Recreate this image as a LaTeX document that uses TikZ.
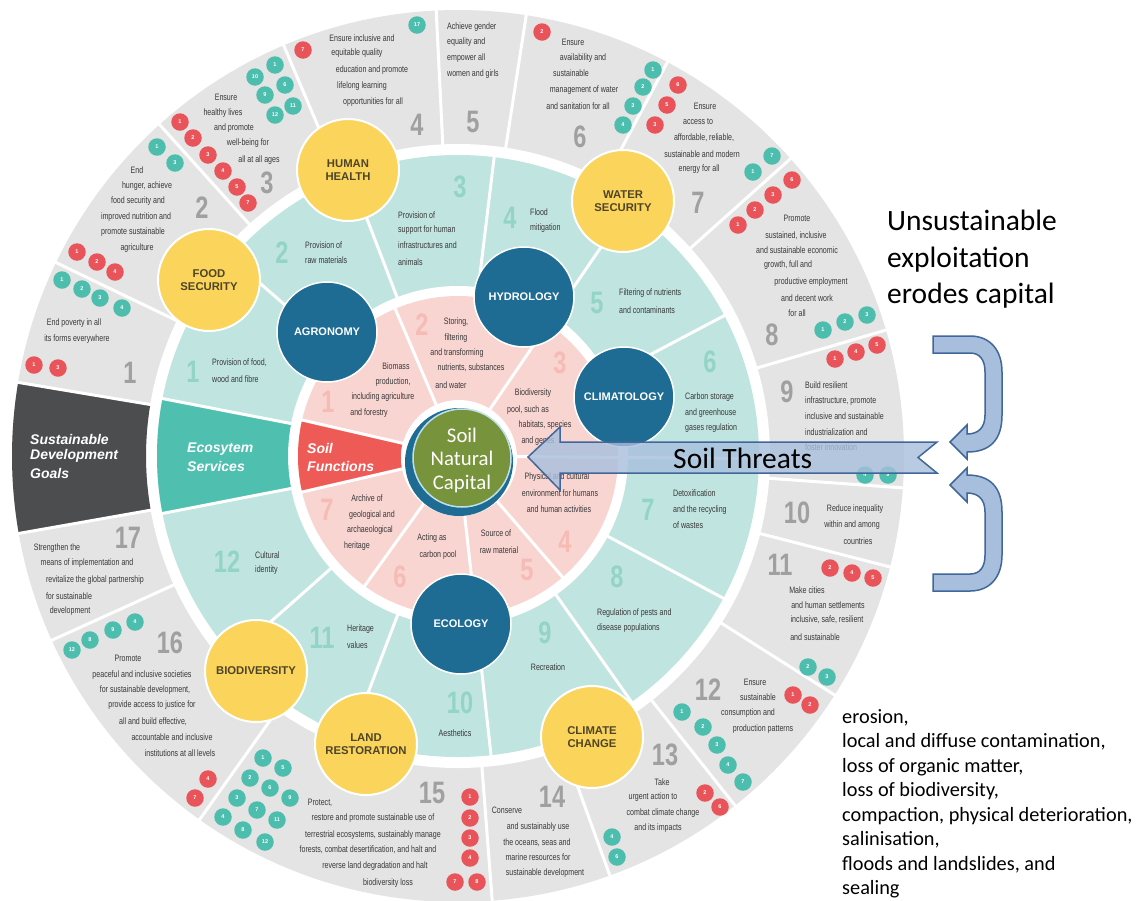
\documentclass[tikz,border=0pt]{standalone}
\usepackage{fontspec}
\setmainfont{Liberation Sans}
\newfontfamily\condf[FakeStretch=0.76]{Liberation Sans}
\newfontfamily\calf{Carlito}
\definecolor{sdggrey}{HTML}{E4E4E4}
\definecolor{sdgdark}{HTML}{4B4D4F}
\definecolor{esring}{HTML}{C0E4DF}
\definecolor{esbox}{HTML}{4FBFAF}
\definecolor{sfring}{HTML}{F9D5D1}
\definecolor{sfred}{HTML}{EE5B57}
\definecolor{ylw}{HTML}{FBD55B}
\definecolor{ytext}{HTML}{4F4526}
\definecolor{dblue}{HTML}{1E6B93}
\definecolor{soilgreen}{HTML}{77933C}
\definecolor{ringlt}{HTML}{BFE0EA}
\definecolor{numgrey}{HTML}{A0A0A0}
\definecolor{numteal}{HTML}{93D4C9}
\definecolor{numpink}{HTML}{F5BBB4}
\definecolor{dotred}{HTML}{E8545A}
\definecolor{dotteal}{HTML}{4DBDAD}
\definecolor{arrfill}{HTML}{A7BFDD}
\definecolor{arrline}{HTML}{41679A}
\definecolor{txtc}{HTML}{383838}
\newcommand\tlines[3]{\foreach \xx/\yy/\ww [count=\nn] in {#3} {\node[#2] (#1-\nn) at (\xx,\yy) {\ww};}}
\begin{document}
\begin{tikzpicture}[x=1pt,y=-1pt,
 sdgt/.style={font=\condf\fontsize{9.3}{10}\selectfont, text=txtc, inner sep=0pt},
 sdgl/.style={sdgt, anchor=west},
 bign/.style={font=\condf\bfseries\fontsize{31}{31}\selectfont, text=numgrey, inner sep=0pt},
 esn/.style={bign, text=numteal},
 sfn/.style={bign, text=numpink},
 dotr/.style={circle, fill=dotred, minimum size=17.5pt, inner sep=0pt, text=white, font=\bfseries\fontsize{5.5}{6}\selectfont},
 dott/.style={dotr, fill=dotteal},
 ycirc/.style={circle, fill=ylw, draw=white, line width=2pt, minimum size=102pt, inner sep=0pt, align=center, text=ytext, font=\bfseries\fontsize{11.3}{13.5}\selectfont},
 bcirc/.style={circle, fill=dblue, draw=white, line width=1.5pt, minimum size=100pt, inner sep=0pt, text=white, font=\bfseries\fontsize{11}{13}\selectfont},
 sect/.style={text=white, font=\bfseries\itshape\fontsize{14}{16}\selectfont, inner sep=0pt, anchor=west},
 rtxt/.style={font=\calf\fontsize{29.5}{36}\selectfont, inner sep=0pt, anchor=base west},
 ltxt/.style={font=\calf\fontsize{20.3}{24}\selectfont, inner sep=0pt, anchor=base west},
 wline/.style={white, line width=3pt},
 arrsh/.style={fill=arrfill, fill opacity=0.8, draw=arrline, line width=1.5pt, line join=miter}]
\useasboundingbox (0,0) rectangle (1142,900);
\clip (0,0) rectangle (1142,900);
\fill[white] (0,0) rectangle (1142,900);
% ---------------- wheel
\begin{scope}[shift={(458,456)}, yscale=-1]
 \fill[sdggrey] (0,0) circle[radius=446];
 \fill[white] (0,0) circle[radius=312];
 \fill[esring] (0,0) circle[radius=301];
 \fill[white] (0,0) circle[radius=170];
 \fill[sfring] (0,0) circle[radius=160];
 \fill[sdgdark] (170.5:312) -- (170.5:446) arc[start angle=170.5, end angle=190, radius=446] -- (190:312) arc[start angle=190, end angle=170.5, radius=312] -- cycle;
 \fill[esbox] (169:170) -- (169:301) arc[start angle=169, end angle=191, radius=301] -- (191:170) arc[start angle=191, end angle=169, radius=170] -- cycle;
 \fill[sfred] (167:57) -- (167:160) arc[start angle=167, end angle=193, radius=160] -- (193:57) arc[start angle=193, end angle=167, radius=57] -- cycle;
 \foreach \a in {170.5,154.3,132,113,92.8,81.2,62,41.8,16.4,-4.1,-14.4,-32.4,-51.6,-70.1,-85.6,-125.4,-155.6,-170}
   \draw[wline] (\a:311) -- (\a:450);
 \foreach \a in {169,138.9,111,83.1,55.6,27.8,-0.5,-28.2,-54.8,-83.7,-110.8,-138.5,-169}
   \draw[wline] (\a:169) -- (\a:302);
 \foreach \a in {167,113.1,55.7,-0.5,-49.2,-83.6,-125.7,-167}
   \draw[wline] (\a:50) -- (\a:161);
\end{scope}
% ---------------- SDG texts
\tlines{ga}{sdgt}{74/323/End poverty in all, 77/339/its forms everywhere}
\tlines{gb}{sdgt}{137/170/End, 147/186/{hunger, achieve}, 138/201/food security and, 136/217/improved nutrition and, 133/232/promote sustainable, 137/248/agriculture}
\tlines{gc}{sdgt}{226/97/Ensure, 223/113/healthy lives, 234/128/and promote, 248/143/well-being for, 259/160/all at all ages}
\tlines{gd}{sdgt}{362/38/Ensure inclusive and, 357/53/equitable quality, 372/70/education and promote, 362/86/lifelong learning, 373/102/opportunities for all}
\tlines{ge}{sdgl}{447/27/Achieve gender, 447/42/equality and, 447/58/empower all, 447/74/women and girls}
\tlines{gf}{sdgt}{573/42/Ensure, 583/58/availability and, 571/73/sustainable, 584/90/management of water, 578/106/and sanitation for all}
\tlines{gg}{sdgt}{705/106/Ensure, 698/122/access to, 704/138/{affordable, reliable,}, 702/154/sustainable and modern, 699/169/energy for all}
\tlines{gh}{sdgt}{797/218/Promote, 796/236/{sustained, inclusive}, 797/250/and sustainable economic, 788/265/{growth, full and}, 811/282/productive employment, 807/298/and decent work, 797/313/for all}
\tlines{gi}{sdgl}{805/385/Build resilient, 805/401/{infrastructure, promote}, 805/416/inclusive and sustainable, 805/432/industrialization and, 805/447/foster innovation}
\tlines{gj}{sdgt}{855/509/Reduce inequality, 852/525/within and among, 858/541/countries}
\tlines{gk}{sdgt}{807/590/Make cities, 828/605/and human settlements, 827/620/{inclusive, safe, resilient}, 815/637/and sustainable}
\tlines{gl}{sdgt}{755/682/Ensure, 758/697/sustainable, 748/713/consumption and, 763/729/production patterns}
\tlines{gm}{sdgt}{662/782/Take, 653/797/urgent action to, 663/813/combat climate change, 658/828/and its impacts}
\tlines{gn}{sdgt}{507/810/Conserve, 538/827/and sustainably use, 537/843/{the oceans, seas and}, 538/857/marine resources for, 545/873/sustainable development}
\tlines{go}{sdgt}{320/803/{Protect,}, 373/818/restore and promote sustainable use of, 373/835/{terrestrial ecosystems, sustainably manage}, 368/850/{forests, combat desertification, and halt and}, 375/866/reverse land degradation and halt, 388/883/biodiversity loss}
\tlines{gp}{sdgt}{128/658/Promote, 142/675/peaceful and inclusive societies, 145/690/{for sustainable development,}, 152/705/provide access to justice for, 153/722/{all and build effective,}, 172/737/accountable and inclusive, 180/753/institutions at all levels}
\tlines{gq}{sdgt}{57/548/Strengthen the, 87/563/means of implementation and, 95/580/revitalize the global partnership, 69/596/for sustainable, 70/611/development}
\tlines{gz}{bign}{130/373/1, 202/208/2, 267/183/3, 417/125/4, 473/122/5, 580/137/6, 698/203/7, 772/335/8, 787/392/9, 797/513/10, 780/565/11, 708/690/12, 665/755/13, 552/797/14, 432/793/15, 170/643/16, 128/538/17}
\tlines{gs}{sect}{30/439/Sustainable, 30/456/Development, 30/473/Goals}
% ---------------- Ecosystem services texts
\tlines{ea}{sdgl}{212/363/{Provision of food,}, 212/379/wood and fibre}
\tlines{eb}{sdgl}{305/245/Provision of, 305/260/raw materials}
\tlines{ec}{sdgl}{398/215/Provision of, 398/230/support for human, 398/245/infrastructures and, 398/262/animals}
\tlines{ed}{sdgl}{530/212/Flood, 530/228/mitigation}
\tlines{ee}{sdgl}{619/293/Filtering of nutrients, 619/310/and contaminants}
\tlines{ef}{sdgl}{685/397/Carbon storage, 685/413/and greenhouse, 685/428/gases regulation}
\tlines{eg}{sdgl}{673/493/Detoxification, 673/510/and the recycling, 673/525/of wastes}
\tlines{eh}{sdgl}{597/613/Regulation of pests and, 597/628/disease populations}
\tlines{ei}{sdgt}{548/667/Recreation}
\tlines{ej}{sdgt}{455/733/Aesthetics}
\tlines{ek}{sdgl}{347/629/Heritage, 347/645/values}
\tlines{el}{sdgl}{255/555/Cultural, 255/570/identity}
\tlines{en}{esn}{193/372/1, 282/253/2, 460/187/3, 510/218/4, 597/303/5, 710/362/6, 648/510/7, 617/577/8, 545/633/9, 460/703/10, 322/638/11, 227/562/12}
\tlines{es}{sect}{187/449/Ecosytem, 187/466/Services}
% ---------------- Soil functions texts
\tlines{fa}{sdgt}{396/366/Biomass, 393/382/{production,}, 383/397/including agriculture, 369/413/and forestry}
\tlines{fb}{sdgt}{456/322/{Storing,}, 456/338/filtering, 457/353/and transforming, 471/368/{nutrients, substances}, 451/385/and water}
\tlines{fc}{sdgt}{533/393/Biodiversity, 528/410/{pool, such as}, 545/425/{habitats, species}, 538/441/and genes}
\tlines{fd}{sdgt}{557/477/Physical and cultural, 560/493/environment for humans, 559/509/and human activities}
\tlines{fe}{sdgt}{496/533/Source of, 499/550/raw material}
\tlines{ff}{sdgt}{432/538/Acting as, 438/555/carbon pool}
\tlines{fg}{sdgt}{367/498/Archive of, 372/515/geological and, 370/530/archaeological, 357/546/heritage}
\tlines{fn}{sfn}{328/402/1, 422/325/2, 560/363/3, 565/542/4, 527/570/5, 400/577/6, 327/510/7}
\tlines{fs}{sect}{307/448/Soil, 307/466/Functions}
% ---------------- small target dots
\tlines{dr}{dotr}{34/365/1, 58/368/3, 77/252/1, 97/262/2, 115/272/4, 180/122/1, 193/138/2, 208/155/3, 223/171/4, 237/187/5, 248/203/7, 303/50/7, 542/32/2, 678/85/6, 667/105/5, 655/125/3, 738/225/1, 755/210/2, 773/195/3, 792/180/6, 835/359/1, 856/352/4, 877/345/5, 830/568/2, 852/573/4, 873/578/5, 793/695/1, 810/705/2, 705/793/2, 720/807/6, 470/797/1, 470/818/2, 470/838/3, 470/858/4, 455/882/7, 477/882/8, 208/779/4, 195/798/7}
\tlines{dt}{dott}{62/280/1, 82/289/2, 100/298/3, 122/308/4, 157/147/1, 175/163/3, 275/65/1, 255/77/10, 285/85/6, 265/95/9, 293/106/11, 275/115/12, 417/25/17, 653/70/1, 643/87/2, 633/106/3, 623/125/4, 753/172/1, 772/156/7, 823/330/1, 845/322/2, 867/315/3, 865/475/4, 888/475/9, 808/667/2, 827/677/3, 682/712/1, 703/727/2, 717/745/3, 728/765/4, 743/782/7, 612/837/4, 617/857/6, 263/758/1, 283/768/5, 250/778/2, 270/788/6, 290/798/9, 237/798/3, 257/810/7, 277/820/11, 223/817/4, 243/830/8, 265/842/12, 72/650/12, 90/640/8, 113/630/9, 135/622/4}
% ---------------- big circles
\node[ycirc] (hh) at (348,170) {HUMAN\\HEALTH};
\node[ycirc] (ws) at (623,201) {WATER\\SECURITY};
\node[ycirc] (fsc) at (209,280) {FOOD\\SECURITY};
\node[ycirc] (bd) at (256,671) {BIODIVERSITY};
\node[ycirc] (lr) at (366,744) {LAND\\RESTORATION};
\node[ycirc] (cc) at (592,737) {CLIMATE\\CHANGE};
\node[bcirc] (ag) at (327,332) {AGRONOMY};
\node[bcirc] (hy) at (524,297) {HYDROLOGY};
\node[bcirc] (cl) at (624,397) {CLIMATOLOGY};
\node[bcirc] (eco) at (461,624) {ECOLOGY};
% ---------------- centre
\fill[white] (459,458) circle[radius=58];
\fill[dblue] (459,462) circle[radius=54];
\node[circle, fill=soilgreen, draw=ringlt, line width=1.5pt, minimum size=98pt, inner sep=0pt] (snc) at (462,458) {};
\node[font=\calf\fontsize{20.8}{23.5}\selectfont, text=white, align=center, inner sep=0pt] (snct) at (462,460) {Soil\\Natural\\Capital};
% ---------------- arrows
\draw[arrsh] (528,457) -- (560,427) -- (560,442) -- (937,442) -- (918,457.5) -- (937,473) -- (560,473) -- (560,490) -- cycle;
\draw[arrsh, fill opacity=1] (933,336) -- (970,336) .. controls (990,336) and (1002,350) .. (1002,372) -- (1002,415) .. controls (1002,440) and (990,452) .. (967,452) -- (967,459) -- (950,442) -- (967,425) -- (967,434) .. controls (978,434) and (985,428) .. (985,415) -- (985,372) .. controls (985,360) and (980,353) .. (970,353) -- (933,353) -- cycle;
\draw[arrsh, fill opacity=1] (933,591) -- (970,591) .. controls (990,591) and (1002,577) .. (1002,555) -- (1002,512) .. controls (1002,487) and (990,475) .. (967,475) -- (967,468) -- (950,485) -- (967,502) -- (967,493) .. controls (978,493) and (985,499) .. (985,512) -- (985,555) .. controls (985,567) and (980,574) .. (970,574) -- (933,574) -- cycle;
% ---------------- right side texts
\node[rtxt] (st) at (673,468) {Soil Threats};
\tlines{ua}{rtxt}{887/230/Unsustainable, 887/267/exploitation, 887/303/erodes capital}
\tlines{tl}{ltxt}{842/723/{erosion,}, 842/747.5/{local and diffuse contamination,}, 842/772/{loss of organic matter,}, 842/796.5/{loss of biodiversity,}, 842/821/{compaction, physical deterioration,}, 842/845.5/{salinisation,}, 842/870/{floods and landslides, and}, 842/894.5/sealing}
\end{tikzpicture}
\end{document}
